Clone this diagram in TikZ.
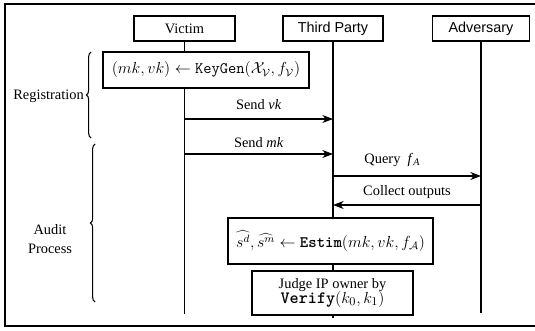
\documentclass[tikz,border=0pt]{standalone}
\usepackage{fontspec}
\setmainfont{Liberation Serif}
\setsansfont{Liberation Sans}
\usetikzlibrary{arrows.meta,decorations.pathreplacing}
\begin{document}
\begin{tikzpicture}[x=0.75pt,y=-0.75pt,
  box/.style={draw, line width=0.8pt, inner sep=0pt, align=center, fill=white},
  actor/.style={box, minimum height=18.75pt},
  life/.style={line width=0.8pt},
  msg/.style={line width=0.8pt, -{Stealth[length=8pt,width=6pt,inset=2.5pt]}},
  lbl/.style={font=\fontsize{10.8}{13}\selectfont, inner sep=0pt},
  mth/.style={font=\fontsize{12}{14}\selectfont},
  brc/.style={decorate, decoration={brace, amplitude=3.5pt}, line width=0.8pt},
  frm/.style={line width=1.1pt}]
\useasboundingbox (0,0) rectangle (535,331);
\begin{scope}
\clip (0,0) rectangle (535,331);
\draw[frm] (545,4) -- (5,4) -- (5,326) -- (545,326);
\end{scope}
% actors
\node[actor, minimum width=75.75pt, font=\fontsize{10.8}{13}\selectfont] (victim) at (184.5,28.5) {Victim};
\node[actor, minimum width=75pt, font=\sffamily\fontsize{10.8}{13}\selectfont] (third) at (333,28.5) {Third Party};
\node[actor, minimum width=72.75pt, font=\sffamily\fontsize{10.8}{13}\selectfont] (adv) at (481,28.5) {Adversary};
% lifeline ends
\coordinate (vEnd) at (184.5,314);
\coordinate (tEnd) at (333,318);
\coordinate (aEnd) at (481,313);
\draw[life] (victim.south) -- (vEnd);
\draw[life] (third.south) -- (tEnd);
\draw[life] (adv.south) -- (aEnd);
% boxes
\node[box, mth, minimum width=154.5pt, minimum height=27pt] (keygen) at (206,70)
  {$(mk, vk) \leftarrow \texttt{KeyGen}(\mathcal{X}_{\mathcal{V}}, f_{\mathcal{V}})$};
\node[box, mth, minimum width=153.75pt, minimum height=34.5pt] (estim) at (330.5,241)
  {$\widehat{s^{d}}, \widehat{s^{m}} \leftarrow \texttt{\bfseries Estim}(mk, vk, f_{\mathcal{A}})$};
\node[box, minimum width=120.75pt, minimum height=33pt] (judge) at (332.5,293)
  {{\fontsize{10.8}{13.5}\selectfont Judge IP owner by}\\[-1pt]{\fontsize{13}{14}\selectfont$\texttt{\bfseries Verify}(k_0, k_1)$}};
% messages
\coordinate (v1) at (184.5,119);
\coordinate (t1) at (333,119);
\coordinate (v2) at (184.5,154);
\coordinate (t2) at (333,154);
\coordinate (t3) at (333,176);
\coordinate (a3) at (481,176);
\coordinate (a4) at (481,205);
\coordinate (t4) at (333,205);
\draw[msg] (v1) -- node[lbl, midway, yshift=10.5pt] {Send \textit{vk}} (t1);
\draw[msg] (v2) -- node[lbl, midway, yshift=8.5pt] {Send \textit{mk}} (t2);
\draw[msg] (t3) -- node[lbl, midway, yshift=12pt, xshift=-11pt] {Query~~\textit{f}\textsubscript{\textit{A}}} (a3);
\draw[msg] (a4) -- node[lbl, midway, yshift=9.75pt] {Collect outputs} (t4);
% braces
\coordinate (r1) at (91,138);
\coordinate (r2) at (91,52);
\coordinate (p1) at (95,302);
\coordinate (p2) at (95,144);
\draw[brc] (r1) -- (r2);
\draw[brc] (p1) -- (p2);
\node[lbl, anchor=east] (reg) at (84,96) {Registration};
\node[lbl, align=center, font=\fontsize{10.8}{14.25}\selectfont] (audit) at (50,239) {Audit\\Process};
\end{tikzpicture}
\end{document}
